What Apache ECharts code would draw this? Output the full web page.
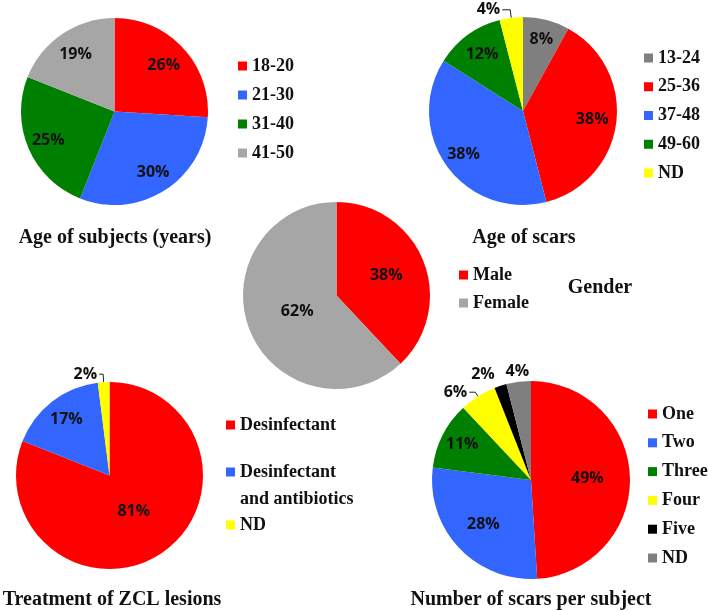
<!DOCTYPE html>
<html><head><meta charset="utf-8">
<script src="https://cdn.jsdelivr.net/npm/echarts@6/dist/echarts.min.js"></script>
<style>html,body{margin:0;padding:0;background:#fff}#c{width:708px;height:611px}</style>
</head><body><div id="c"></div>
<script>
// ---- data ----
const ageSubjectsCats = ['18-20', '21-30', '31-40', '41-50'];
const ageSubjectsVals = [26, 30, 25, 19];
const ageScarsCats = ['13-24', '25-36', '37-48', '49-60', 'ND'];
const ageScarsVals = [8, 38, 38, 12, 4];
const genderCats = ['Male', 'Female'];
const genderVals = [38, 62];
const treatmentCats = ['Desinfectant', 'Desinfectant and antibiotics', 'ND'];
const treatmentVals = [81, 17, 2];
const scarsCountCats = ['One', 'Two', 'Three', 'Four', 'Five', 'ND'];
const scarsCountVals = [49, 28, 11, 6, 2, 4];
const chartTitles = ['Age of subjects (years)', 'Age of scars', 'Gender', 'Treatment of ZCL lesions', 'Number of scars per subject'];

// ---- styles / layout ----
const RED = '#FF0000', BLUE = '#3366FF', GREEN = '#008000', LGRAY = '#A6A6A6', DGRAY = '#7F7F7F', YEL = '#FFFF00', BLK = '#000000';
const labelFont = { fontFamily: '"Open Sans", sans-serif', fontWeight: 'bold', fontSize: 16, color: '#111' };
const legendText = { fontFamily: '"Liberation Serif", serif', fontWeight: 'bold', fontSize: 18, lineHeight: 18, color: '#111', padding: [5, 0, 0, 0] };
const titleFont = 'bold 20px "Liberation Serif", serif';

// frac: radial position of each label as a fraction of the radius (null = drawn outside with a line)
const pies = [
  { cats: ageSubjectsCats, vals: ageSubjectsVals, colors: [RED, BLUE, GREEN, LGRAY], center: [114.5, 111.5], r: 93.5,
    frac: [0.69, 0.74, 0.74, 0.71], outside: {} },
  { cats: ageScarsCats, vals: ageScarsVals, colors: [DGRAY, RED, BLUE, GREEN, YEL], center: [523, 111], r: 94,
    frac: [0.75, 0.71, 0.75, 0.71, null], outside: { 4: { length: 8, length2: 8, line: true } } },
  { cats: genderCats, vals: genderVals, colors: [RED, LGRAY], center: [336.5, 295.5], r: 93.5,
    frac: [0.54, 0.42], outside: {} },
  { cats: treatmentCats, vals: treatmentVals, colors: [RED, BLUE, YEL], center: [109.5, 475.5], r: 93.5,
    frac: [0.43, 0.72, null], outside: { 2: { length: 8, length2: 4, line: true } } },
  { cats: scarsCountCats, vals: scarsCountVals, colors: [RED, BLUE, GREEN, YEL, BLK, DGRAY], center: [531, 480], r: 99,
    frac: [0.54, 0.63, 0.75, null, null, 1.07], outside: { 3: { length: 5, length2: 6, line: true }, 4: { length: 12, length2: 0, line: false } } }
];

const series = [];
pies.forEach(function (p) {
  // visible pie
  series.push({
    type: 'pie', center: p.center, radius: [0, p.r], startAngle: 90, clockwise: true,
    silent: true, animation: false, avoidLabelOverlap: false,
    itemStyle: { borderWidth: 0 },
    label: { show: false }, labelLine: { show: false },
    emphasis: { disabled: true },
    data: p.vals.map(function (v, i) {
      const o = { name: p.cats[i], value: v, itemStyle: { color: p.colors[i] } };
      const out = p.outside[i];
      if (out) {
        o.label = Object.assign({ show: true, position: 'outside', formatter: '{c}%', distanceToLabelLine: 2 }, labelFont);
        o.labelLine = { show: out.line, length: out.length, length2: out.length2, smooth: false, lineStyle: { color: '#222', width: 1 } };
      }
      return o;
    })
  });
  // label rings: one per ring-placed label, putting the label at the wanted radial fraction
  p.frac.forEach(function (f, idx) {
    if (f == null) return;
    let radius;
    if (f > 1) radius = [(f - 0.05) * p.r, (f + 0.05) * p.r];
    else radius = f >= 0.5 ? [(2 * f - 1) * p.r, p.r] : [0, 2 * f * p.r];
    series.push({
      type: 'pie', center: p.center, radius: radius, startAngle: 90, clockwise: true,
      silent: true, animation: false, avoidLabelOverlap: false,
      itemStyle: { color: 'transparent', borderWidth: 0 },
      labelLine: { show: false },
      emphasis: { disabled: true },
      data: p.vals.map(function (v, i) {
        return {
          name: p.cats[i], value: v,
          label: Object.assign({ show: i === idx, position: 'inside', formatter: '{c}%' }, labelFont)
        };
      })
    });
  });
});

function mkLegend(data, left, top, gap, fmt) {
  const l = { data: data, orient: 'vertical', left: left, top: top, itemGap: gap, itemWidth: 9, itemHeight: 9,
    icon: 'rect', padding: 0, selectedMode: false, textStyle: legendText, itemStyle: { borderWidth: 0 } };
  if (fmt) l.formatter = fmt;
  return l;
}

const legends = [
  mkLegend(ageSubjectsCats, 238, 54.5, 6),
  mkLegend(ageScarsCats, 644, 46.5, 5.75),
  mkLegend(genderCats, 459, 263.5, 5),
  mkLegend([treatmentCats[0]], 226, 413.5, 5),
  mkLegend([treatmentCats[1]], 226, 460.5, 5, function () { return 'Desinfectant'; }),
  mkLegend([treatmentCats[2]], 226, 513.5, 5),
  mkLegend(scarsCountCats.map(function (n) { return n === 'ND' ? { name: n, itemStyle: { color: DGRAY } } : n; }), 648, 402.5, 5.8)
];

function txt(t, x, y, font, align) {
  return { type: 'text', x: x, y: y, silent: true,
    style: { text: t, font: font, fill: '#111', align: align || 'center', verticalAlign: 'middle' } };
}

const graphics = [
  txt(chartTitles[0], 115, 238, titleFont),
  txt(chartTitles[1], 524, 238, titleFont),
  txt(chartTitles[2], 600, 288, titleFont),
  txt(chartTitles[3], 112, 600, titleFont),
  txt(chartTitles[4], 531, 600, titleFont),
  txt('and antibiotics', 240, 499, 'bold 18px "Liberation Serif", serif', 'left')
];

const chart = echarts.init(document.getElementById('c'), null, { renderer: 'canvas' });
chart.setOption({
  animation: false,
  backgroundColor: '#ffffff',
  legend: legends,
  series: series,
  graphic: graphics
});
</script>
</body></html>
